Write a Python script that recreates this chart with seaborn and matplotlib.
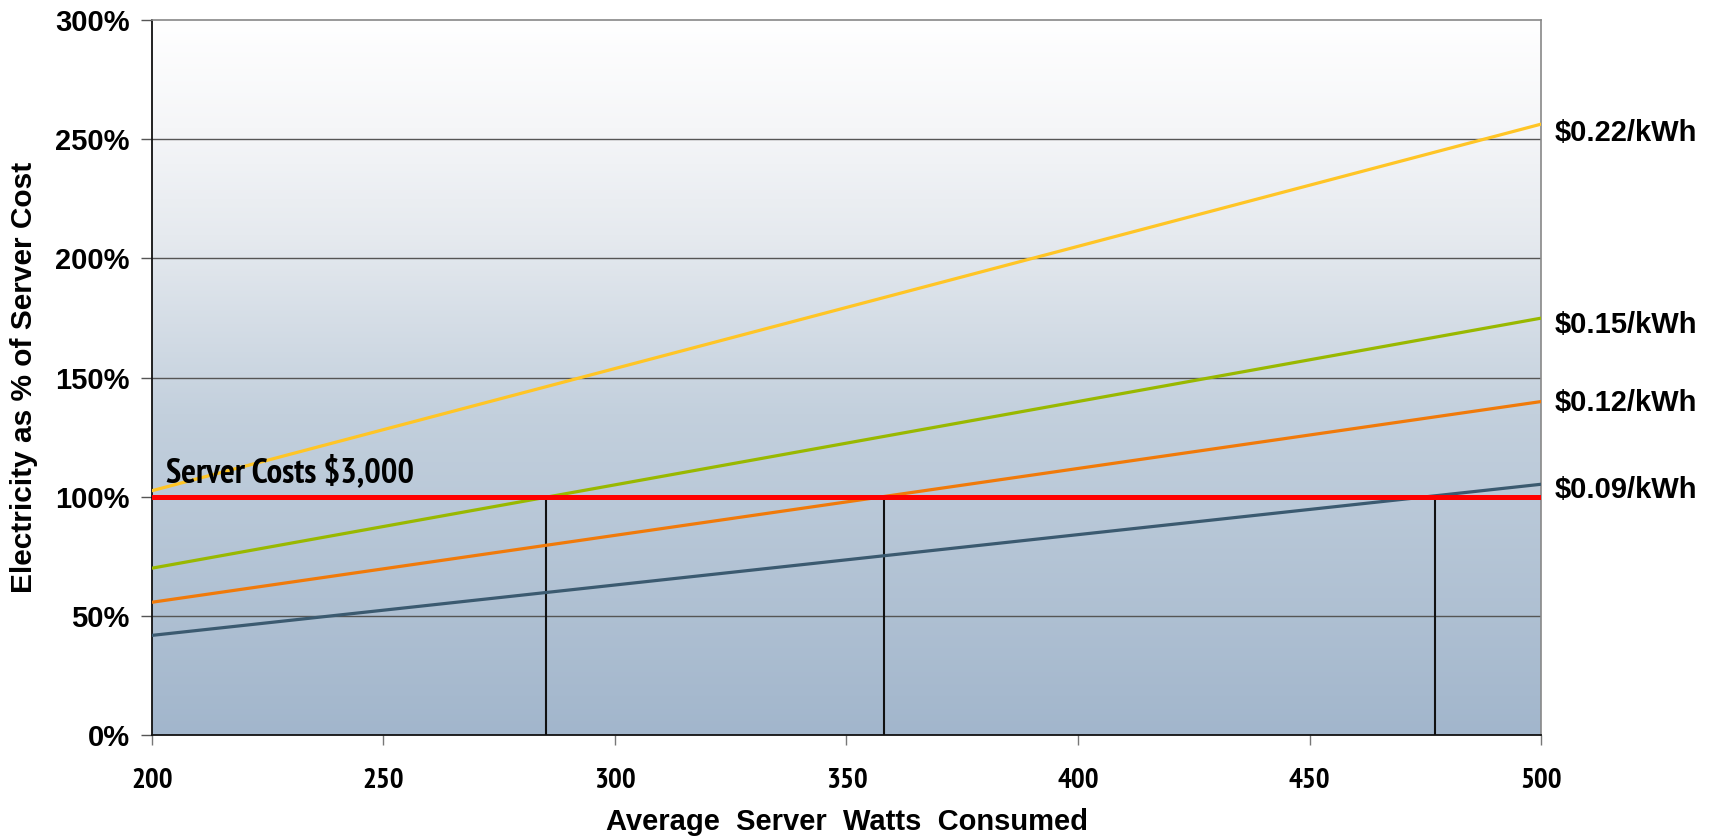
import numpy as np
import pandas as pd
import seaborn as sns
import matplotlib
matplotlib.use("Agg")
import matplotlib.pyplot as plt
from matplotlib import font_manager
from matplotlib.font_manager import FontProperties
from matplotlib.colors import LinearSegmentedColormap

# Electricity cost over server life as a share of a $3,000 server
watts = [200, 500]
price_labels = ["$0.09/kWh", "$0.12/kWh", "$0.15/kWh", "$0.22/kWh"]
pct_009 = [41.8, 105.2]
pct_012 = [55.7, 139.9]
pct_015 = [70.0, 174.9]
pct_022 = [102.5, 256.3]
breakeven_watts = [285, 358, 477]
server_cost_pct = 100
y_ticks = [0, 50, 100, 150, 200, 250, 300]
x_ticks = [200, 250, 300, 350, 400, 450, 500]

line_colors = ["#3b5a70", "#f07a0a", "#99b800", "#ffc526"]
# vertical nudge (points) of each end label relative to its line's end
label_nudge = [-3.9, -0.9, -4.6, -6.3]

rows = []
for label, vals in zip(price_labels, [pct_009, pct_012, pct_015, pct_022]):
    for w, v in zip(watts, vals):
        rows.append({"watts": w, "pct": v, "price": label})
df = pd.DataFrame(rows)

sns.set_theme(style="white")
plt.rcParams["font.family"] = ["Liberation Sans", "DejaVu Sans"]
plt.rcParams["text.color"] = "black"
plt.rcParams["xtick.color"] = "black"
plt.rcParams["ytick.color"] = "black"
plt.rcParams["axes.labelcolor"] = "black"


def condensed_bold(size):
    """Bold condensed face: a narrow sans if one is installed."""
    fonts = font_manager.fontManager.ttflist
    for f in fonts:
        if "Narrow" in f.name and "Bold" in f.fname and "Italic" not in f.fname:
            return FontProperties(fname=f.fname, size=size)
    for f in fonts:
        low = f.fname.lower()
        if "condensed" in low and "bold" in low and "oblique" not in low and "italic" not in low \
                and "sans" in low and "mono" not in low and "serif" not in low.replace("sans", ""):
            return FontProperties(fname=f.fname, size=size)
    return FontProperties(family="Liberation Sans", weight="bold", size=size)


fig = plt.figure(figsize=(17.14, 8.38), dpi=100)
ax = fig.add_axes([152 / 1714, 1 - 735 / 838, (1541 - 152) / 1714, (735 - 20) / 838])

# vertical gradient background of the plotting area
grad = LinearSegmentedColormap.from_list(
    "bg", [(0.0, "#a2b6cc"), (0.45, "#c3d0dd"), (0.7, "#e6eaef"), (0.85, "#f5f6f8"), (1.0, "#ffffff")]
)
ax.imshow(np.linspace(0, 1, 256).reshape(-1, 1), cmap=grad, origin="lower",
          extent=[0, 1, 0, 1], transform=ax.transAxes, aspect="auto", zorder=0)

for y in y_ticks[1:-1]:
    ax.axhline(y, color="#555555", lw=1.0, zorder=1)

sns.lineplot(data=df, x="watts", y="pct", hue="price", hue_order=price_labels,
             palette=line_colors, linewidth=2.3, legend=False, ax=ax, zorder=3)

ax.vlines(breakeven_watts, 0, server_cost_pct, color="#111111", lw=1.5, zorder=2)
ax.axhline(server_cost_pct, color="#ff0000", lw=3.6, zorder=4)

ax.set_xlim(200, 500)
ax.set_ylim(0, 300)
ax.set_xticks(x_ticks)
ax.set_yticks(y_ticks)
ax.set_yticklabels([f"{t}%" for t in y_ticks], fontsize=21, fontweight="bold")
ax.set_xticklabels([str(t) for t in x_ticks], fontproperties=condensed_bold(21))
ax.tick_params(axis="y", length=8, width=1, color="#555555", pad=8, left=True)
ax.tick_params(axis="x", length=7, width=1, color="#777777", pad=17, bottom=True)

for side in ["left", "bottom"]:
    ax.spines[side].set_color("#111111")
    ax.spines[side].set_linewidth(1.3)
for side in ["top", "right"]:
    ax.spines[side].set_color("#888888")
    ax.spines[side].set_linewidth(1.2)
ax.spines["top"].set_zorder(5)

ax.set_ylabel("Electricity as % of Server Cost", fontsize=21.5, fontweight="bold", labelpad=12)
xl = ax.set_xlabel("Average  Server  Watts  Consumed", fontsize=21, fontweight="bold")
xl.set_verticalalignment("baseline")
ax.xaxis.set_label_coords(0.5, -95 / 715)

ax.text(203, 103, "Server Costs $3,000", fontproperties=condensed_bold(25),
        ha="left", va="bottom", zorder=6)

for label, vals, dy in zip(price_labels, [pct_009, pct_012, pct_015, pct_022], label_nudge):
    ax.annotate(label, xy=(500, vals[-1]), xytext=(10, dy), textcoords="offset points",
                fontsize=21, fontweight="bold", ha="left", va="center", annotation_clip=False)

fig.savefig("out.png", dpi=100)
